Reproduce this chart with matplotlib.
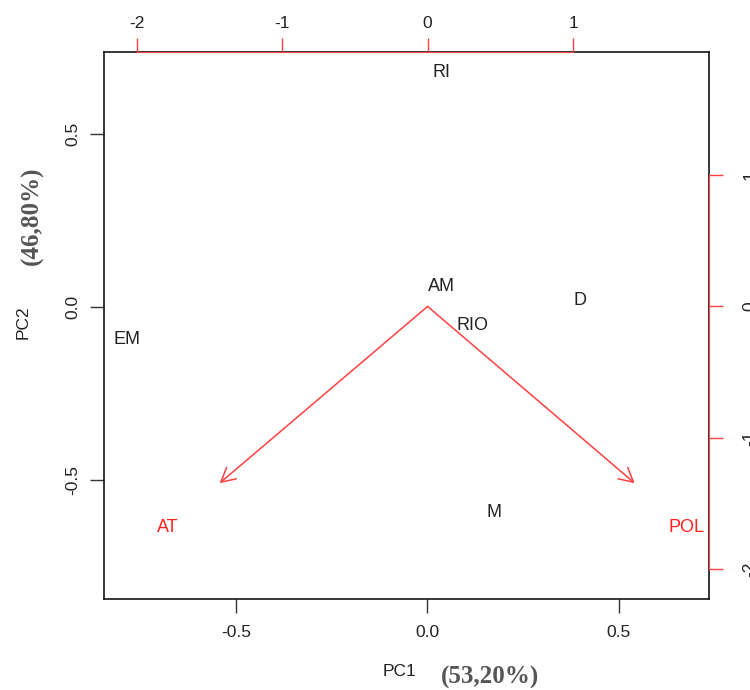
import numpy as np
import matplotlib
matplotlib.use("Agg")
import matplotlib.pyplot as plt

# PCA biplot: sample scores (PC1, PC2) and variable loadings
sites = ["RI", "AM", "RIO", "D", "EM", "M"]
pc1 = [0.036, 0.036, 0.119, 0.400, -0.785, 0.174]
pc2 = [0.677, 0.058, -0.055, 0.017, -0.096, -0.596]

variables = ["AT", "POL"]
load1 = [-1.787, 1.780]
load2 = [-1.680, -1.680]

score_lim = (-0.845, 0.736)
load_lim = (-2.225, 1.935)

plt.rcParams["font.family"] = ["Liberation Sans", "DejaVu Sans"]
plt.rcParams["axes.unicode_minus"] = False

fig = plt.figure(figsize=(7.5, 6.9), dpi=100)
rect = [104 / 750, 1 - 599 / 690, 605 / 750, 547 / 690]
ax = fig.add_axes(rect)
ax2 = fig.add_axes(rect, facecolor="none", label="loadings")

# scores as text labels
for name, x, y in zip(sites, pc1, pc2):
    ax.text(x, y, name, ha="center", va="center", fontsize=13, color="#222222")
ax.set_xlim(score_lim)
ax.set_ylim(score_lim)
ax.set_xticks([-0.5, 0.0, 0.5])
ax.set_yticks([-0.5, 0.0, 0.5])
ax.set_xticklabels(["-0.5", "0.0", "0.5"])
ax.set_yticklabels(["-0.5", "0.0", "0.5"], rotation=90, va="center")
ax.tick_params(direction="out", length=10, width=1, labelsize=12.5,
               labelcolor="#222222", color="#333333")
ax.tick_params(axis="x", pad=9)
ax.tick_params(axis="y", pad=7)
for s in ax.spines.values():
    s.set_color("black")
    s.set_linewidth(1.1)

# loadings: arrows to 0.8 * loading, labels at the loading
for name, x, y in zip(variables, load1, load2):
    ax2.annotate("", xy=(0.8 * x, 0.8 * y), xytext=(0, 0),
                 arrowprops=dict(arrowstyle="->,head_length=0.5,head_width=0.27",
                                 color="#ff4040", lw=1.1, shrinkA=0, shrinkB=0,
                                 mutation_scale=20))
    ax2.text(x, y, name, ha="center", va="center", fontsize=13, color="#ff2020")
ax2.set_xlim(load_lim)
ax2.set_ylim(load_lim)
ax2.xaxis.tick_top()
ax2.yaxis.tick_right()
ax2.set_xticks([-2, -1, 0, 1])
ax2.set_yticks([-2, -1, 0, 1])
ax2.set_yticklabels(["-2", "-1", "0", "1"], rotation=90, va="center")
ax2.tick_params(direction="out", length=10, width=1, labelsize=12.5,
                labelcolor="#222222", color="#ff4040")
ax2.tick_params(axis="x", pad=5)
ax2.tick_params(axis="y", pad=14)
for side in ["left", "bottom"]:
    ax2.spines[side].set_visible(False)
ax2.spines["top"].set_bounds(-2, 1)
ax2.spines["right"].set_bounds(-2, 1)
ax2.spines["top"].set_color("#ff4040")
ax2.spines["right"].set_color("#ff4040")

# axis titles and explained variance
fig.text(400 / 750, 1 - 671 / 690, "PC1", ha="center", va="center",
         fontsize=12.5, color="#222222")
fig.text(23 / 750, 1 - 322 / 690, "PC2", ha="center", va="center",
         fontsize=12.5, color="#222222", rotation=90)
fig.text(490 / 750, 1 - 677 / 690, "(53,20%)", ha="center", va="center",
         fontsize=18, fontweight="bold", family="Liberation Serif", color="#555555")
fig.text(32 / 750, 1 - 216 / 690, "(46,80%)", ha="center", va="center",
         fontsize=18, fontweight="bold", family="Liberation Serif", color="#555555",
         rotation=90)

fig.savefig("out.png", dpi=100)
